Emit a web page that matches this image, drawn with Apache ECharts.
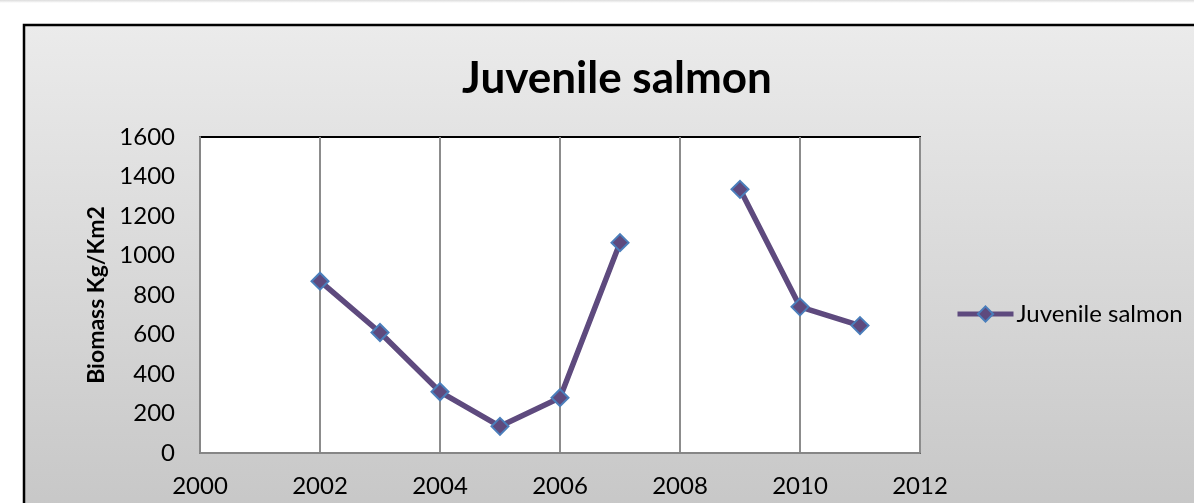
<!DOCTYPE html>
<html>
<head>
<meta charset="utf-8">
<script src="https://cdn.jsdelivr.net/npm/echarts@6/dist/echarts.min.js"></script>
<style>
  html, body { margin: 0; padding: 0; background: #ffffff; }
  #chart { width: 1194px; height: 503px; }
</style>
</head>
<body>
<div id="chart"></div>
<script>
// Survey years and juvenile salmon biomass (kg/km2); 2008 has no survey value
const years = [2002, 2003, 2004, 2005, 2006, 2007, 2008, 2009, 2010, 2011];
const biomass = [870, 610, 310, 135, 280, 1065, null, 1335, 740, 645];
const seriesName = 'Juvenile salmon';
const chartTitle = 'Juvenile salmon';
const yAxisTitle = 'Biomass Kg/Km2';

const points = years.map((y, i) => [y, biomass[i] === null ? '-' : biomass[i]]);

const chart = echarts.init(document.getElementById('chart'));
const font = 'Lato, "Open Sans", sans-serif';

chart.setOption({
  backgroundColor: '#ffffff',
  animation: false,
  graphic: [
    { type: 'rect', z: -10, silent: true,
      shape: { x: 0, y: 0, width: 1194, height: 3 },
      style: { fill: new echarts.graphic.LinearGradient(0, 0, 0, 1, [
        { offset: 0, color: '#dcdcdc' }, { offset: 1, color: '#ffffff' }]) } },
    { type: 'rect', z: -10, silent: true,
      shape: { x: 24, y: 25, width: 1200, height: 500 },
      style: {
        fill: new echarts.graphic.LinearGradient(0, 0, 0, 1, [
          { offset: 0, color: '#ebebeb' }, { offset: 1, color: '#c6c6c6' }]),
        stroke: '#000000', lineWidth: 2.5 } }
  ],
  title: {
    text: chartTitle,
    left: 612, top: 52, textAlign: 'center',
    textStyle: { fontFamily: font, fontWeight: 'bold', fontSize: 44, color: '#000000' }
  },
  legend: {
    left: 950, top: 297,
    itemWidth: 56, itemHeight: 19, itemGap: 4,
    data: [seriesName],
    lineStyle: { width: 5 },
    textStyle: { fontFamily: font, fontSize: 24, color: '#000000', padding: [0, 0, 0, -2] }
  },
  grid: {
    left: 200, top: 137, right: 274, bottom: 50,
    show: true, backgroundColor: '#ffffff', borderColor: '#000000', borderWidth: 2
  },
  xAxis: {
    type: 'value', min: 2000, max: 2012, interval: 2,
    axisLine: { show: true, onZero: false, lineStyle: { color: '#868686', width: 2 } },
    axisTick: { show: false },
    axisLabel: { margin: 21, fontFamily: font, fontSize: 24, color: '#000000',
      formatter: v => String(v) },
    splitLine: { show: true, lineStyle: { color: '#8c8c8c', width: 2 } }
  },
  yAxis: {
    type: 'value', min: 0, max: 1600, interval: 200,
    name: yAxisTitle, nameLocation: 'middle', nameGap: 87, nameRotate: 90,
    nameTextStyle: { fontFamily: font, fontWeight: 'bold', fontSize: 23, color: '#000000' },
    axisLine: { show: true, lineStyle: { color: '#868686', width: 2 } },
    axisTick: { show: false },
    axisLabel: { margin: 25, fontFamily: font, fontSize: 24, color: '#000000',
      formatter: v => String(v) },
    splitLine: { show: false }
  },
  series: [{
    name: seriesName,
    type: 'line',
    data: points,
    connectNulls: false,
    symbol: 'diamond',
    symbolSize: 17,
    lineStyle: { color: '#5e4a7e', width: 5.5 },
    itemStyle: { color: '#5e4a7e', borderColor: '#4a7ebb', borderWidth: 2 },
    z: 5
  }]
});
</script>
</body>
</html>
